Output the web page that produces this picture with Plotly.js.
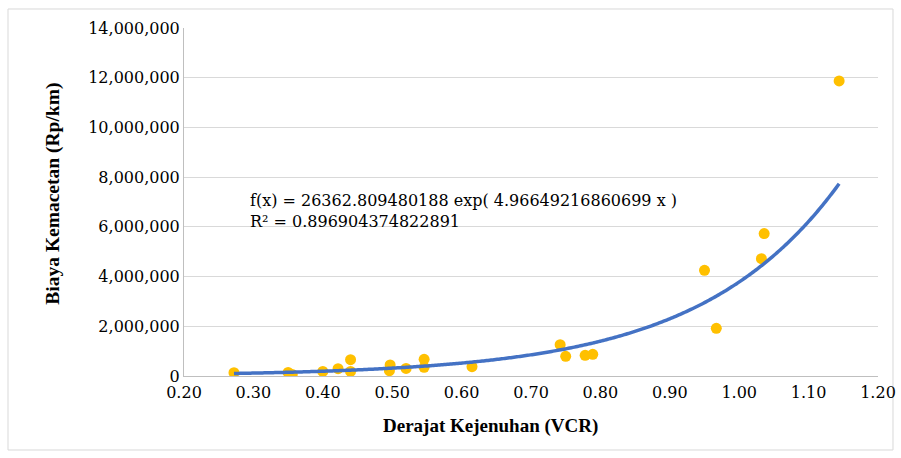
<!DOCTYPE html>
<html>
<head>
<meta charset="utf-8">
<script src="https://cdn.plot.ly/plotly-3.0.1.min.js"></script>
<style>
html,body{margin:0;padding:0;background:#fff;}
#chart{width:901px;height:458px;}
</style>
</head>
<body>
<div id="chart"></div>
<script>
// Data
var vcr  = [0.272,0.350,0.356,0.400,0.422,0.440,0.440,0.497,0.496,0.520,0.546,0.546,0.615,0.742,0.750,0.778,0.789,0.950,0.967,1.032,1.036,1.144];
var cost = [133000,145000,65000,185000,294000,657000,185000,444000,214000,306000,669000,347000,375000,1262000,790000,830000,870000,4250000,1920000,4720000,5730000,11870000];

// Exponential trendline coefficients (from the equation shown)
var fitA = 26362.809480188;
var fitB = 4.96649216860699;
var eqText = "f(x) = 26362.809480188 exp( 4.96649216860699 x )";
var r2Text = "R² = 0.896904374822891";

var xTitle = "Derajat Kejenuhan (VCR)";
var yTitle = "Biaya Kemacetan (Rp/km)";

var xmin = Math.min.apply(null, vcr), xmax = Math.max.apply(null, vcr);
var fx = [], fy = [];
for (var i = 0; i <= 400; i++) {
  var x = xmin + (xmax - xmin) * i / 400;
  fx.push(x); fy.push(fitA * Math.exp(fitB * x));
}

var serifR = "DejaVu Serif";
var serifB = "Liberation Serif";

var traces = [
  {x: vcr, y: cost, type: 'scatter', mode: 'markers',
   marker: {color: '#FFC000', size: 11}, name: 'data'},
  {x: fx, y: fy, type: 'scatter', mode: 'lines',
   line: {color: '#4472C4', width: 3.5, simplify: false}, name: 'trend'}
];

var layout = {
  width: 901, height: 458,
  margin: {l: 184, r: 23, t: 28, b: 82},
  paper_bgcolor: '#fff', plot_bgcolor: '#fff',
  showlegend: false,
  font: {family: serifR, color: '#000', size: 16},
  xaxis: {
    range: [0.2, 1.2], dtick: 0.1, tick0: 0.2, tickformat: '.2f',
    showgrid: false, zeroline: false, showline: true, linecolor: '#bfbfbf', linewidth: 1,
    ticks: '', ticklabelstandoff: 2, tickfont: {family: serifR, size: 16, color: '#000'}
  },
  yaxis: {
    range: [0, 14000000], dtick: 2000000, tickformat: ',',
    showgrid: true, gridcolor: '#d9d9d9', gridwidth: 1,
    zeroline: false, showline: true, linecolor: '#bfbfbf', linewidth: 1,
    ticks: '', tickfont: {family: serifR, size: 16, color: '#000'}
  },
  annotations: [
    {xref: 'x', yref: 'y', x: 0.292, y: 6620000, xanchor: 'left', yanchor: 'middle',
     align: 'left', showarrow: false,
     text: eqText + '<br>' + r2Text,
     font: {family: serifR, size: 16, color: '#000'}},
    {xref: 'paper', yref: 'paper', x: 0.441, y: -0.1437, xanchor: 'center', yanchor: 'middle',
     showarrow: false, text: '<b>' + xTitle + '</b>',
     font: {family: serifB, size: 19, color: '#000'}},
    {xref: 'paper', yref: 'paper', x: -0.190, y: 0.5244, xanchor: 'center', yanchor: 'middle',
     showarrow: false, textangle: -90, text: '<b>' + yTitle + '</b>',
     font: {family: serifB, size: 19.5, color: '#000'}}
  ],
  shapes: [
    {type: 'rect', xref: 'paper', yref: 'paper',
     x0: -0.2536, x1: 1.0216, y0: -0.2126, y1: 1.0546,
     line: {color: '#d9d9d9', width: 1}, fillcolor: 'rgba(0,0,0,0)', layer: 'below'}
  ]
};

Plotly.newPlot('chart', traces, layout, {staticPlot: true, displayModeBar: false});
</script>
</body>
</html>
